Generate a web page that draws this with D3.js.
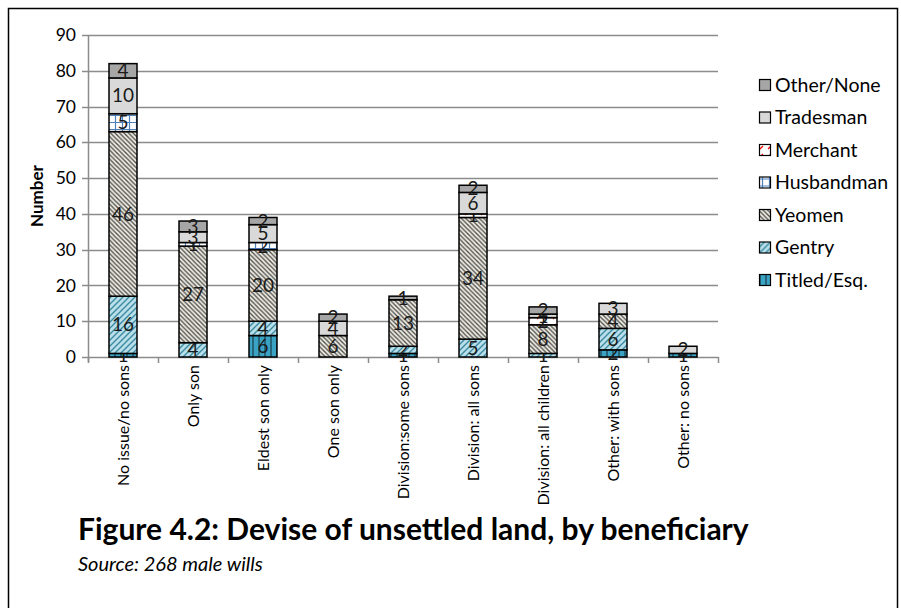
<!DOCTYPE html>
<html>
<head>
<meta charset="utf-8">
<script src="https://cdn.jsdelivr.net/npm/d3@7"></script>
<style>
  body { margin: 0; background: #fff; }
  text { font-family: Lato, "Open Sans", sans-serif; }
</style>
</head>
<body>
<div id="chart"></div>
<script>
const categories = ["No issue/no sons", "Only son", "Eldest son only", "One son only",
    "Division:some sons", "Division: all sons", "Division: all children",
    "Other: with sons", "Other: no sons"];

const titled     = [1, 0, 6, 0, 1, 0, 0, 2, 1];
const gentry     = [16, 4, 4, 0, 2, 5, 1, 6, 0];
const yeomen     = [46, 27, 20, 6, 13, 34, 8, 4, 0];
const husbandman = [5, 1, 2, 0, 0, 0, 0, 0, 0];
const merchant   = [0, 0, 0, 0, 0, 1, 2, 0, 0];
const tradesman  = [10, 3, 5, 4, 0, 6, 1, 3, 2];
const otherNone  = [4, 3, 2, 2, 1, 2, 2, 0, 0];

const seriesNames = ["Titled/Esq.", "Gentry", "Yeomen", "Husbandman", "Merchant", "Tradesman", "Other/None"];
const yTicks = [0, 10, 20, 30, 40, 50, 60, 70, 80, 90];

const seriesValues = [titled, gentry, yeomen, husbandman, merchant, tradesman, otherNone];
const fills = ["url(#pTitled)", "url(#pGentry)", "url(#pYeomen)", "url(#pHusband)",
    "url(#pMerchant)", "#d9d9d9", "#a6a6a6"];

const width = 901;
const height = 608;
const margin = { left: 88, right: 718, top: 35, bottom: 357 };

const svg = d3.select("#chart")
    .append("svg")
    .attr("width", width)
    .attr("height", height);

// fill patterns, one per hatched series
const defs = svg.append("defs");

let p = defs.append("pattern").attr("id", "pTitled").attr("patternUnits", "userSpaceOnUse")
    .attr("width", 6).attr("height", 6);
p.append("rect").attr("width", 6).attr("height", 6).attr("fill", "#3aa2c3");
p.append("line").attr("x1", 1).attr("y1", 0).attr("x2", 1).attr("y2", 6)
    .attr("stroke", "#1d4f60").attr("stroke-width", 1.5);

p = defs.append("pattern").attr("id", "pGentry").attr("patternUnits", "userSpaceOnUse")
    .attr("width", 6).attr("height", 6);
p.append("rect").attr("width", 6).attr("height", 6).attr("fill", "#b9e0ea");
p.append("path").attr("d", "M0,6L6,0M-1,1L1,-1M5,7L7,5")
    .attr("stroke", "#3d8aa0").attr("stroke-width", 1.4);

p = defs.append("pattern").attr("id", "pYeomen").attr("patternUnits", "userSpaceOnUse")
    .attr("width", 4.5).attr("height", 4.5);
p.append("rect").attr("width", 4.5).attr("height", 4.5).attr("fill", "#efede2");
p.append("path").attr("d", "M0,0L4.5,4.5M-1,3.5L1,5.5M3.5,-1L5.5,1")
    .attr("stroke", "#4d4d4d").attr("stroke-width", 1.3);

p = defs.append("pattern").attr("id", "pHusband").attr("patternUnits", "userSpaceOnUse")
    .attr("width", 7).attr("height", 7);
p.append("rect").attr("width", 7).attr("height", 7).attr("fill", "#fff");
p.append("path").attr("d", "M3.5,0V7M0,3.5H7")
    .attr("stroke", "#4f81bd").attr("stroke-width", 1.2);

p = defs.append("pattern").attr("id", "pMerchant").attr("patternUnits", "userSpaceOnUse")
    .attr("width", 8).attr("height", 8);
p.append("rect").attr("width", 8).attr("height", 8).attr("fill", "#fff");
p.append("path").attr("d", "M1,7L4,4")
    .attr("stroke", "#ff0000").attr("stroke-width", 1.3);

// outer frame
svg.append("rect")
    .attr("x", 8.5).attr("y", 8.5)
    .attr("width", 889).attr("height", 620)
    .attr("fill", "none")
    .attr("stroke", "#000")
    .attr("stroke-width", 1.5);

const x = d3.scaleBand()
    .domain(categories)
    .range([margin.left, margin.right])
    .paddingInner(0.6)
    .paddingOuter(0.3);

const y = d3.scaleLinear()
    .domain([0, 90])
    .range([margin.bottom, margin.top]);

// gridlines
svg.append("g")
    .selectAll("line")
    .data(yTicks)
    .enter()
    .append("line")
    .attr("x1", margin.left - 6)
    .attr("x2", margin.right)
    .attr("y1", d => Math.round(y(d)) + 0.5)
    .attr("y2", d => Math.round(y(d)) + 0.5)
    .attr("stroke", "#8c8c8c")
    .attr("stroke-width", 1.5);

// y axis line
svg.append("line")
    .attr("x1", margin.left + 0.5).attr("x2", margin.left + 0.5)
    .attr("y1", margin.top).attr("y2", margin.bottom + 5)
    .attr("stroke", "#8c8c8c").attr("stroke-width", 1.5);

// y tick labels
svg.append("g")
    .selectAll("text")
    .data(yTicks)
    .enter()
    .append("text")
    .attr("x", margin.left - 12)
    .attr("y", d => y(d))
    .attr("dy", "0.35em")
    .attr("text-anchor", "end")
    .attr("font-size", 17.5)
    .attr("fill", "#000")
    .text(d => d);

// x ticks between categories
const step = (margin.right - margin.left) / categories.length;
svg.append("g")
    .selectAll("line")
    .data(d3.range(categories.length + 1))
    .enter()
    .append("line")
    .attr("x1", d => Math.round(margin.left + d * step) + 0.5)
    .attr("x2", d => Math.round(margin.left + d * step) + 0.5)
    .attr("y1", margin.bottom)
    .attr("y2", margin.bottom + 6)
    .attr("stroke", "#8c8c8c")
    .attr("stroke-width", 1.5);

// stacked bars
const table = categories.map((c, i) => {
    const row = { cat: c };
    seriesNames.forEach((s, j) => { row[s] = seriesValues[j][i]; });
    return row;
});
const stacked = d3.stack().keys(seriesNames)(table);

const layers = svg.append("g")
    .selectAll("g")
    .data(stacked)
    .enter()
    .append("g")
    .attr("fill", (d, i) => fills[i]);

layers.selectAll("rect")
    .data(d => d.filter(v => v[1] - v[0] > 0))
    .enter()
    .append("rect")
    .attr("x", d => x(d.data.cat))
    .attr("y", d => y(d[1]))
    .attr("width", x.bandwidth())
    .attr("height", d => y(d[0]) - y(d[1]))
    .attr("stroke", "#000")
    .attr("stroke-width", 1.5);

// value labels
layers.selectAll("text")
    .data(d => d.filter(v => v[1] - v[0] > 0))
    .enter()
    .append("text")
    .attr("x", d => x(d.data.cat) + x.bandwidth() / 2)
    .attr("y", d => (y(d[0]) + y(d[1])) / 2)
    .attr("dy", "0.35em")
    .attr("text-anchor", "middle")
    .attr("font-size", 19)
    .attr("fill", "#1a1a1a")
    .text(d => d[1] - d[0]);

// category labels
svg.append("g")
    .selectAll("text")
    .data(categories)
    .enter()
    .append("text")
    .attr("transform", d => `translate(${x(d) + x.bandwidth() / 2},${margin.bottom + 8}) rotate(-90)`)
    .attr("dy", "0.35em")
    .attr("text-anchor", "end")
    .attr("font-size", 16)
    .attr("fill", "#000")
    .text(d => d);

// y axis title
svg.append("text")
    .attr("transform", `translate(37,${(margin.top + margin.bottom) / 2}) rotate(-90)`)
    .attr("dy", "0.35em")
    .attr("text-anchor", "middle")
    .attr("font-size", 17)
    .attr("font-weight", "bold")
    .text("Number");

// legend, top entry is the last series
const legendOrder = seriesNames.slice().reverse();
const legend = svg.append("g")
    .selectAll("g")
    .data(legendOrder)
    .enter()
    .append("g")
    .attr("transform", (d, i) => `translate(759,${85 + i * 32.5})`);

legend.append("rect")
    .attr("x", 0.5).attr("y", -5.5)
    .attr("width", 11).attr("height", 11)
    .attr("fill", d => fills[seriesNames.indexOf(d)])
    .attr("stroke", "#000")
    .attr("stroke-width", 1.2);

legend.append("text")
    .attr("x", 16)
    .attr("dy", "0.35em")
    .attr("font-size", 19.5)
    .text(d => d);

// captions
svg.append("text")
    .attr("x", 78).attr("y", 540)
    .attr("font-size", 30)
    .attr("font-weight", "bold")
    .text("Figure 4.2: Devise of unsettled land, by beneficiary");

svg.append("text")
    .attr("x", 78).attr("y", 571)
    .attr("font-size", 20)
    .attr("font-style", "italic")
    .text("Source: 268 male wills");
</script>
</body>
</html>
